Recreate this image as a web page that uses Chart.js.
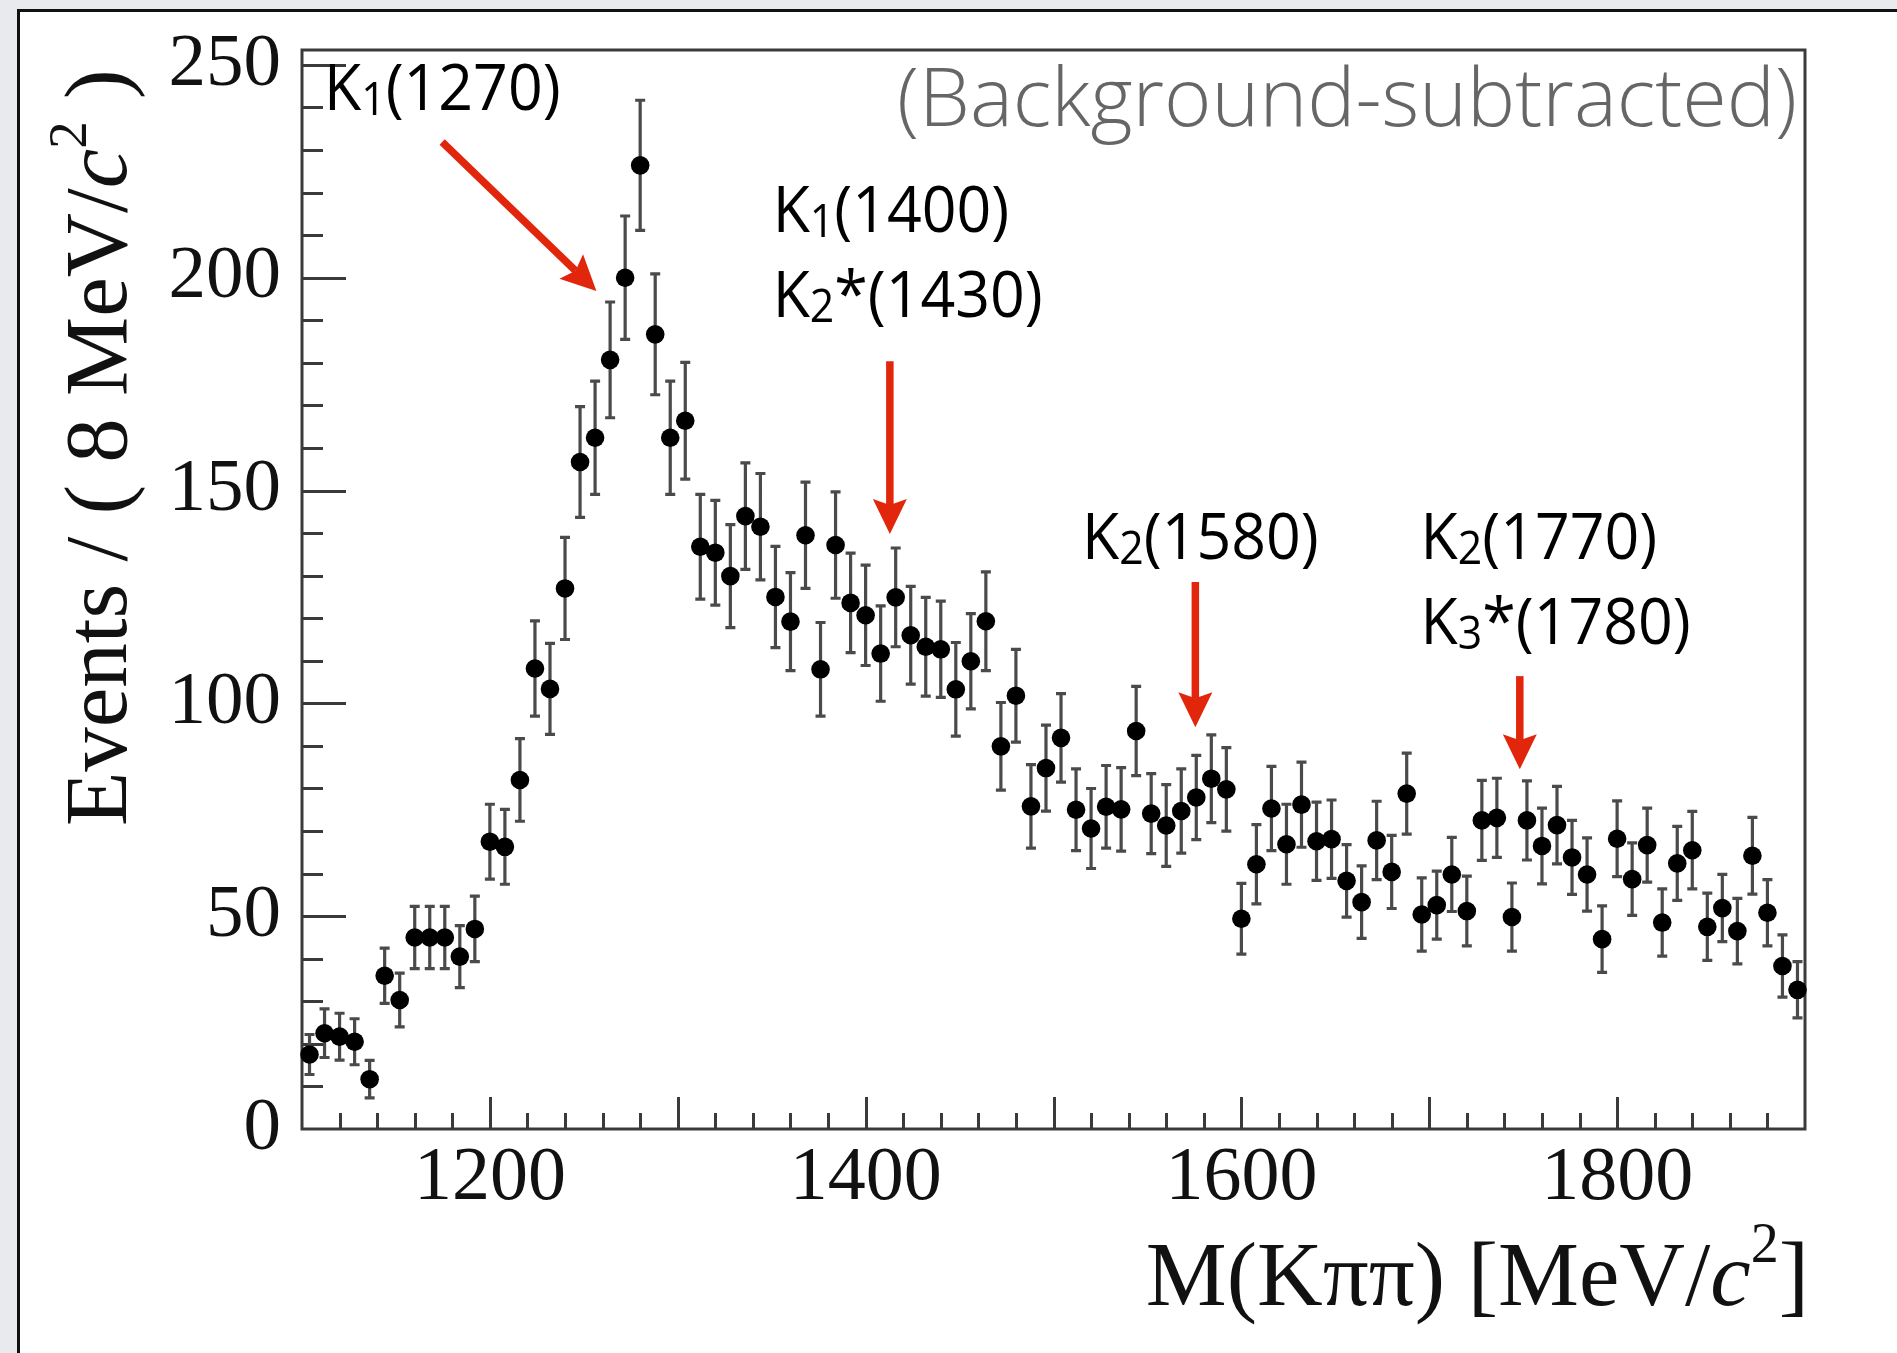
<!DOCTYPE html>
<html>
<head>
<meta charset="utf-8">
<script src="https://cdn.jsdelivr.net/npm/chart.js@4.4.1/dist/chart.umd.min.js"></script>
<style>
  html, body { margin: 0; padding: 0; width: 1897px; height: 1353px; overflow: hidden; background: #e8eaed; }
  #panel { position: absolute; left: 17px; top: 9px; width: 2000px; height: 2000px; background: #fff;
           border-left: 3px solid #111; border-top: 3px solid #111; }
  #wrap { position: absolute; left: 0; top: 0; width: 1897px; height: 1353px; }
</style>
</head>
<body>
<div id="panel"></div>
<div id="wrap"><canvas id="chart"></canvas></div>
<script>
// Bin centres of M(Kππ) in MeV/c², 8 MeV wide bins
const massBins = [
  1104, 1112, 1120, 1128, 1136, 1144, 1152, 1160, 1168, 1176,
  1184, 1192, 1200, 1208, 1216, 1224, 1232, 1240, 1248, 1256,
  1264, 1272, 1280, 1288, 1296, 1304, 1312, 1320, 1328, 1336,
  1344, 1352, 1360, 1368, 1376, 1384, 1392, 1400, 1408, 1416,
  1424, 1432, 1440, 1448, 1456, 1464, 1472, 1480, 1488, 1496,
  1504, 1512, 1520, 1528, 1536, 1544, 1552, 1560, 1568, 1576,
  1584, 1592, 1600, 1608, 1616, 1624, 1632, 1640, 1648, 1656,
  1664, 1672, 1680, 1688, 1696, 1704, 1712, 1720, 1728, 1736,
  1744, 1752, 1760, 1768, 1776, 1784, 1792, 1800, 1808, 1816,
  1824, 1832, 1840, 1848, 1856, 1864, 1872, 1880, 1888, 1896
];

// Background-subtracted event counts per bin
const events = [
  17.5, 22.5, 21.7, 20.5, 11.7, 36.0, 30.3, 45.0, 45.0, 45.0,
  40.5, 47.0, 67.5, 66.3, 82.0, 108.2, 103.4, 127.0, 156.7, 162.4,
  180.7, 200.0, 226.4, 186.7, 162.4, 166.4, 136.8, 135.4, 129.9, 144.0,
  141.5, 125.0, 119.2, 139.5, 108.0, 137.2, 123.6, 120.7, 111.7, 124.9,
  116.0, 113.3, 112.7, 103.3, 109.9, 119.3, 89.9, 101.8, 75.8, 84.8,
  91.9, 75.0, 70.6, 75.7, 75.1, 93.5, 74.1, 71.3, 74.7, 77.9,
  82.3, 79.8, 49.4, 62.2, 75.3, 66.9, 76.2, 67.6, 68.1, 58.3,
  53.3, 67.8, 60.4, 78.8, 50.4, 52.6, 59.8, 51.2, 72.5, 73.1,
  49.8, 72.5, 66.5, 71.4, 63.8, 59.8, 44.6, 68.2, 58.7, 66.7,
  48.5, 62.4, 65.5, 47.5, 51.9, 46.5, 64.2, 50.8, 38.3, 32.7
];

// Statistical uncertainty per bin
const errors = [
  4.7, 5.7, 5.5, 5.4, 4.4, 6.5, 6.3, 7.3, 7.3, 7.3,
  7.3, 7.7, 8.8, 8.8, 9.7, 11.2, 10.7, 12.0, 13.0, 13.3,
  13.6, 14.5, 15.3, 14.2, 13.3, 13.7, 12.3, 12.3, 12.1, 12.5,
  12.5, 11.9, 11.5, 12.5, 11.0, 12.5, 11.7, 11.8, 11.2, 11.6,
  11.5, 11.6, 11.3, 11.0, 11.2, 11.6, 10.3, 10.9, 9.8, 10.1,
  10.4, 9.6, 9.4, 9.7, 9.8, 10.5, 9.4, 9.6, 9.9, 9.9,
  10.3, 9.8, 8.3, 9.3, 9.9, 9.4, 10.0, 9.2, 9.2, 8.5,
  8.5, 9.2, 8.6, 9.5, 8.6, 8.0, 8.7, 8.2, 9.4, 9.3,
  8.0, 9.3, 8.9, 9.1, 8.7, 8.6, 7.8, 8.9, 8.5, 8.7,
  7.9, 8.7, 9.1, 7.9, 7.9, 7.7, 9.0, 7.8, 7.3, 6.6
];

// Axis tick labels
const xTickLabels = [1200, 1400, 1600, 1800];
const yTickLabels = [0, 50, 100, 150, 200, 250];

// Resonance labels (anchor in axis units: mass, events)
const resonanceLabels = [
  { sub: '1', star: false, mass: '(1270)', at: [1111.7, 239.4] },
  { sub: '1', star: false, mass: '(1400)', at: [1350.5, 210.8] },
  { sub: '2', star: true,  mass: '(1430)', at: [1350.5, 190.8] },
  { sub: '2', star: false, mass: '(1580)', at: [1515.2, 133.9] },
  { sub: '2', star: false, mass: '(1770)', at: [1695.4, 133.9] },
  { sub: '3', star: true,  mass: '(1780)', at: [1695.4, 113.9] }
];

// Arrows pointing at the resonances (tail -> tip, axis units)
const resonanceArrows = [
  { from: [1174.6, 231.9], to: [1256.7, 196.9] },
  { from: [1412.9, 180.4], to: [1412.9, 139.8] },
  { from: [1575.5, 128.5], to: [1575.5, 94.4] },
  { from: [1748.2, 106.4], to: [1748.2, 84.5] }
];

const SERIF = "'Liberation Serif', 'Times New Roman', Times, serif";
const SANS = "'Open Sans', 'Noto Sans', sans-serif";
const RED = '#e1260c';

// Draw a sequence of text runs with their own fonts and vertical offsets
function drawRuns(ctx, runs, x, y, align, sx) {
  sx = sx || 1;
  let total = 0;
  for (const r of runs) { ctx.font = r.font; r.w = ctx.measureText(r.text).width; total += r.w; }
  ctx.save();
  ctx.translate(x, y);
  ctx.scale(sx, 1);
  ctx.textBaseline = 'alphabetic';
  ctx.textAlign = 'left';
  let cx = align === 'right' ? -total : 0;
  for (const r of runs) { ctx.font = r.font; ctx.fillText(r.text, cx, r.dy || 0); cx += r.w; }
  ctx.restore();
}

function particleRuns(p, size) {
  const f = size + 'px ' + SANS;
  const fs = Math.round(size * 0.7) + 'px ' + SANS;
  const runs = [{ text: 'K', font: f }, { text: p.sub, font: fs, dy: size * 0.08 }];
  if (p.star) runs.push({ text: '*', font: f });
  runs.push({ text: p.mass, font: f });
  return runs;
}

function drawArrow(ctx, x1, y1, x2, y2) {
  const ang = Math.atan2(y2 - y1, x2 - x1);
  const c = Math.cos(ang), s = Math.sin(ang);
  const L = 35, W = 17, N = 29;
  ctx.save();
  ctx.strokeStyle = RED;
  ctx.fillStyle = RED;
  ctx.lineWidth = 7.5;
  ctx.lineCap = 'butt';
  ctx.beginPath();
  ctx.moveTo(x1, y1);
  ctx.lineTo(x2 - c * N, y2 - s * N);
  ctx.stroke();
  ctx.beginPath();
  ctx.moveTo(x2, y2);
  ctx.lineTo(x2 - c * L - s * W, y2 - s * L + c * W);
  ctx.lineTo(x2 - c * N, y2 - s * N);
  ctx.lineTo(x2 - c * L + s * W, y2 - s * L - c * W);
  ctx.closePath();
  ctx.fill();
  ctx.restore();
}

// Plot frame with inward-pointing ticks
const frameAndTicks = {
  id: 'frameAndTicks',
  beforeDatasetsDraw(chart) {
    const { ctx, chartArea: { left, right, top, bottom }, scales: { x, y } } = chart;
    ctx.save();
    ctx.strokeStyle = '#3a3a3a';
    ctx.lineWidth = 3;
    ctx.strokeRect(left, top, right - left, bottom - top);
    ctx.beginPath();
    for (let m = 1120; m < 1900; m += 20) {
      const px = Math.round(x.getPixelForValue(m)) + 0.5;
      const len = (m % 100 === 0) ? 32 : 16;
      ctx.moveTo(px, bottom);
      ctx.lineTo(px, bottom - len);
    }
    for (let v = 10; v <= 250; v += 10) {
      const py = Math.round(y.getPixelForValue(v)) + 0.5;
      const len = (v % 50 === 0) ? 44 : 21;
      ctx.moveTo(left, py);
      ctx.lineTo(left + len, py);
    }
    ctx.stroke();
    ctx.restore();
  }
};

// Vertical error bars with small caps
const errorBars = {
  id: 'errorBars',
  beforeDatasetsDraw(chart) {
    const { ctx, scales: { x, y } } = chart;
    ctx.save();
    ctx.strokeStyle = '#4a4a4a';
    ctx.lineWidth = 3.2;
    ctx.beginPath();
    for (let i = 0; i < massBins.length; i++) {
      const px = x.getPixelForValue(massBins[i]);
      const lo = y.getPixelForValue(events[i] - errors[i]);
      const hi = y.getPixelForValue(events[i] + errors[i]);
      ctx.moveTo(px, lo); ctx.lineTo(px, hi);
      ctx.moveTo(px - 5, lo); ctx.lineTo(px + 5, lo);
      ctx.moveTo(px - 5, hi); ctx.lineTo(px + 5, hi);
    }
    ctx.stroke();
    ctx.restore();
  }
};

// Axis titles, resonance labels and arrows
const annotations = {
  id: 'annotations',
  afterDatasetsDraw(chart) {
    const { ctx, chartArea: { left, right, bottom }, scales: { x, y } } = chart;
    ctx.save();
    ctx.fillStyle = '#111';

    // y-axis title, rotated
    const T = 89;
    const yTitle = [
      { text: 'Events / ( 8 MeV/', font: T + 'px ' + SERIF },
      { text: 'c', font: 'italic ' + T + 'px ' + SERIF },
      { text: '2', font: Math.round(T * 0.62) + 'px ' + SERIF, dy: -T * 0.45 },
      { text: ' )', font: T + 'px ' + SERIF }
    ];
    ctx.save();
    ctx.translate(left - 176, 826);
    ctx.rotate(-Math.PI / 2);
    drawRuns(ctx, yTitle, 0, 0, 'left');
    ctx.restore();

    // x-axis title, right aligned
    const TX = 91;
    const xTitle = [
      { text: 'M(Kππ) [MeV/', font: TX + 'px ' + SERIF },
      { text: 'c', font: 'italic ' + TX + 'px ' + SERIF },
      { text: '2', font: Math.round(TX * 0.62) + 'px ' + SERIF, dy: -TX * 0.47 },
      { text: ']', font: TX + 'px ' + SERIF }
    ];
    drawRuns(ctx, xTitle, right + 4, bottom + 176, 'right');

    // subtitle
    ctx.fillStyle = '#666';
    drawRuns(ctx, [{ text: '(Background-subtracted)', font: '300 81px ' + SANS }],
      x.getPixelForValue(1895.8), y.getPixelForValue(235.6), 'right');

    // resonance names
    ctx.fillStyle = '#000';
    for (const p of resonanceLabels) {
      drawRuns(ctx, particleRuns(p, 64), x.getPixelForValue(p.at[0]), y.getPixelForValue(p.at[1]), 'left', 0.95);
    }

    // arrows
    for (const a of resonanceArrows) {
      drawArrow(ctx,
        x.getPixelForValue(a.from[0]), y.getPixelForValue(a.from[1]),
        x.getPixelForValue(a.to[0]), y.getPixelForValue(a.to[1]));
    }
    ctx.restore();
  }
};

new Chart(document.getElementById('chart'), {
  type: 'scatter',
  data: {
    datasets: [{
      data: massBins.map((m, i) => ({ x: m, y: events[i] })),
      pointRadius: 9.3,
      pointHoverRadius: 9.3,
      backgroundColor: '#000',
      borderColor: '#000',
      borderWidth: 0,
      clip: false
    }]
  },
  options: {
    responsive: true,
    maintainAspectRatio: false,
    animation: false,
    events: [],
    layout: { padding: { left: 0, top: 50, right: 92, bottom: 0 } },
    plugins: { legend: { display: false }, tooltip: { enabled: false } },
    scales: {
      x: {
        type: 'linear', position: 'bottom', min: 1100, max: 1900,
        grid: { display: false, drawTicks: false },
        border: { display: false },
        ticks: {
          font: { family: SERIF, size: 76 }, color: '#111', padding: 4,
          maxRotation: 0, autoSkip: false, callback: v => String(v)
        },
        afterBuildTicks: s => { s.ticks = xTickLabels.map(v => ({ value: v })); },
        afterFit: s => { s.height = 224; s.paddingLeft = 0; s.paddingRight = 0; }
      },
      y: {
        type: 'linear', position: 'left', min: 0, max: 253.5,
        grid: { display: false, drawTicks: false },
        border: { display: false },
        ticks: {
          font: { family: SERIF, size: 75 }, color: '#111', padding: 21,
          autoSkip: false, callback: v => String(v)
        },
        afterBuildTicks: s => { s.ticks = yTickLabels.map(v => ({ value: v })); },
        afterFit: s => { s.width = 302; s.paddingTop = 0; s.paddingBottom = 0; }
      }
    }
  },
  plugins: [frameAndTicks, errorBars, annotations]
});
</script>
</body>
</html>
